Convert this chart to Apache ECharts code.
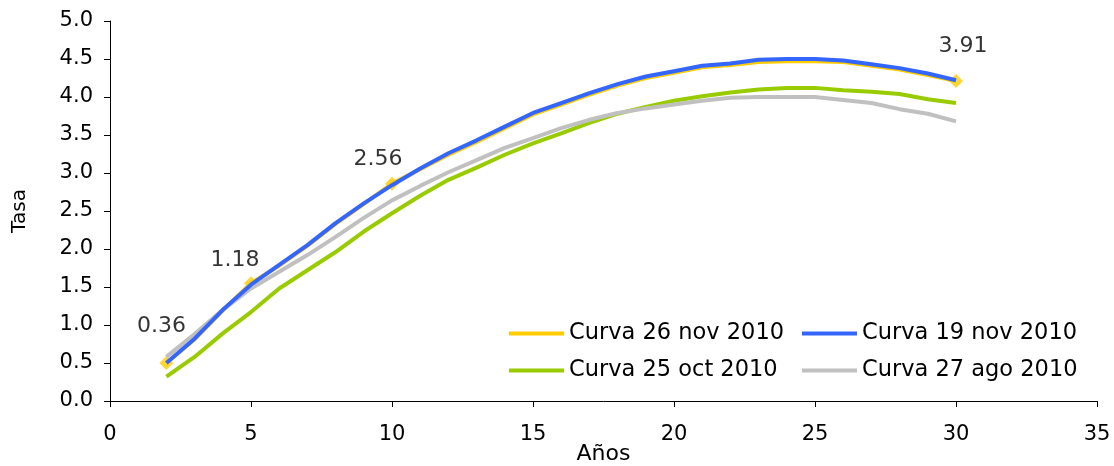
<!DOCTYPE html>
<html>
<head>
<meta charset="utf-8">
<script src="https://cdn.jsdelivr.net/npm/echarts@6/dist/echarts.min.js"></script>
<style>
  html, body { margin: 0; padding: 0; background: #fff; }
  #main { width: 1114px; height: 466px; }
</style>
</head>
<body>
<div id="main"></div>
<script>
// años (eje x)
var years = [2, 3, 4, 5, 6, 7, 8, 9, 10, 11, 12, 13, 14, 15, 16, 17, 18, 19, 20, 21, 22, 23, 24, 25, 26, 27, 28, 29, 30];
// curvas de tasas
var curva26nov = [0.50, 0.81, 1.19, 1.55, 1.78, 2.04, 2.33, 2.59, 2.86, 3.05, 3.24, 3.41, 3.59, 3.77, 3.90, 4.03, 4.15, 4.25, 4.32, 4.39, 4.42, 4.46, 4.47, 4.47, 4.46, 4.41, 4.36, 4.29, 4.21];
var curva19nov = [0.50, 0.82, 1.20, 1.53, 1.79, 2.05, 2.34, 2.60, 2.84, 3.06, 3.26, 3.43, 3.61, 3.79, 3.92, 4.05, 4.17, 4.27, 4.34, 4.41, 4.44, 4.49, 4.50, 4.50, 4.48, 4.43, 4.38, 4.31, 4.22];
var curva25oct = [0.32, 0.58, 0.89, 1.17, 1.48, 1.72, 1.96, 2.23, 2.47, 2.70, 2.91, 3.07, 3.24, 3.39, 3.52, 3.66, 3.78, 3.87, 3.95, 4.01, 4.06, 4.10, 4.12, 4.12, 4.09, 4.07, 4.04, 3.97, 3.92];
var curva27ago = [0.58, 0.88, 1.20, 1.48, 1.70, 1.92, 2.16, 2.41, 2.64, 2.83, 3.01, 3.17, 3.33, 3.46, 3.59, 3.70, 3.79, 3.85, 3.90, 3.95, 3.99, 4.00, 4.00, 4.00, 3.96, 3.92, 3.84, 3.78, 3.68];
// puntos marcados y sus etiquetas
var markYears = [2, 5, 10, 30];
var markLabels = ['0.36', '1.18', '2.56', '3.91'];
var markOffsets = [[-5, -37], [-16, -23], [-14, -24], [7, -35]];

var seriesNames = ['Curva 26 nov 2010', 'Curva 19 nov 2010', 'Curva 25 oct 2010', 'Curva 27 ago 2010'];
var colors = ['#FFCC00', '#3366FF', '#99CC00', '#C0C0C0'];
var font = 'DejaVu Sans, Verdana, sans-serif';
var legendPos = [[504, 317], [797, 317], [504, 354], [797, 354]];

function pairs(ys) {
  return years.map(function (x, i) { return [x, ys[i]]; });
}

var myChart = echarts.init(document.getElementById('main'));

var markData = markYears.map(function (x, i) {
  var y = curva26nov[years.indexOf(x)];
  return {
    value: [x, y],
    label: {
      show: true, formatter: markLabels[i], position: 'inside', offset: markOffsets[i],
      color: '#000', fontFamily: font, fontSize: 22
    }
  };
});

var lineSeries = [curva26nov, curva19nov, curva25oct, curva27ago].map(function (ys, i) {
  return {
    name: seriesNames[i],
    type: 'line',
    data: pairs(ys),
    showSymbol: false,
    symbol: 'none',
    lineStyle: { color: colors[i], width: 4 },
    itemStyle: { color: colors[i] },
    z: i === 1 ? 4 : 2 + i * 0.1
  };
});

// una leyenda por serie para alinear las columnas
var legends = seriesNames.map(function (name, i) {
  return {
    left: legendPos[i][0], top: legendPos[i][1],
    itemWidth: 55, itemHeight: 4, itemGap: 6,
    icon: 'rect',
    data: [name],
    textStyle: { fontFamily: font, fontSize: 22.5, color: '#000' }
  };
});

var option = {
  animation: false,
  backgroundColor: '#fff',
  grid: { left: 110, right: 17, top: 21, bottom: 65, containLabel: false, outerBoundsMode: 'none' },
  legend: legends,
  xAxis: {
    type: 'value', min: 0, max: 35, interval: 5,
    name: 'Años', nameLocation: 'middle', nameGap: 42, nameMoveOverlap: false,
    nameTextStyle: { fontFamily: font, fontSize: 22, color: '#000' },
    axisLine: { lineStyle: { color: '#000', width: 1 } },
    axisTick: { show: true, length: 6, lineStyle: { color: '#000' } },
    axisLabel: { fontFamily: font, fontSize: 21, color: '#000', margin: 23 },
    splitLine: { show: false }
  },
  yAxis: {
    type: 'value', min: 0, max: 5, interval: 0.5,
    name: 'Tasa', nameLocation: 'middle', nameGap: 80, nameRotate: 90, nameMoveOverlap: false,
    nameTextStyle: { fontFamily: font, fontSize: 20, color: '#000' },
    axisLine: { show: true, lineStyle: { color: '#000', width: 1 } },
    axisTick: { show: true, length: 6, lineStyle: { color: '#000' } },
    axisLabel: {
      fontFamily: font, fontSize: 21, color: '#000', margin: 17,
      formatter: function (v) { return v.toFixed(1); }
    },
    splitLine: { show: false }
  },
  series: lineSeries.concat([{
    name: 'marcas',
    type: 'scatter',
    data: markData,
    symbol: 'diamond',
    symbolSize: 14,
    itemStyle: { color: '#FFCC00' },
    z: 1
  }])
};

myChart.setOption(option);
</script>
</body>
</html>
